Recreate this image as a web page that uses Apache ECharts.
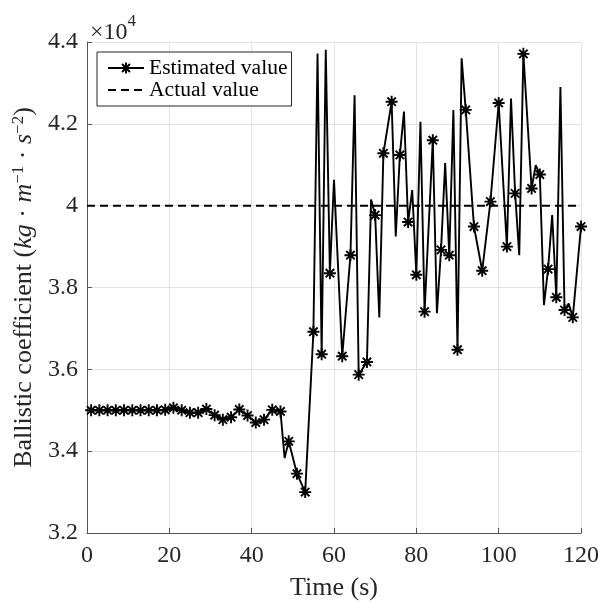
<!DOCTYPE html>
<html>
<head>
<meta charset="utf-8">
<script src="https://cdn.jsdelivr.net/npm/echarts@6/dist/echarts.min.js"></script>
<style>
  html, body { margin: 0; padding: 0; background: #fff; }
  #chart { width: 598px; height: 603px; }
</style>
</head>
<body>
<div id="chart"></div>
<script>
// asterisk points (estimated value with marker)
var markerTime = [1,3,5,7,9,11,13,15,17,19,21,23,25,27,29,31,33,35,37,39,41,43,45,47,49,51,53,55,57,59,
    62,64,66,68,70,72,74,76,78,80,82,84,86,88,90,92,94,96,98,100,102,104,106,108,110,112,114,116,118,120];
var markerValue = [35000,35000,35000,35000,35000,35000,35000,35000,35000,35010,35060,35000,34940,34940,35030,
    34880,34770,34830,35020,34870,34700,34770,35010,34970,34240,33450,33000,36920,36370,38350,
    36320,38790,35870,36180,39770,41280,42540,41240,39600,38310,37410,41600,38920,38790,36480,
    42340,39490,38410,40100,42510,39000,40300,43710,40420,40760,38450,37760,37450,37270,39490];
// line vertices between markers (no marker drawn)
var peakTime = [48,56,58,60,65,69,71,75,77,79,81,85,87,89,91,103,105,109,111,113,115,117];
var peakValue = [33830,43720,43810,40630,42700,40150,37270,39250,42300,40380,42050,37370,41040,42340,43600,
    42620,38790,40990,37570,39770,42900,37610];
var actualTime = [0, 120];
var actualValue = [40000, 40000];

var asterisk = 'path://M5,0L5,10M0,5L10,5M1.5,1.5L8.5,8.5M8.5,1.5L1.5,8.5';
var serif = 'Liberation Serif';

var estData = [];
for (var i = 0; i < markerTime.length; i++) {
    estData.push({value: [markerTime[i], markerValue[i]]});
}
for (var j = 0; j < peakTime.length; j++) {
    estData.push({value: [peakTime[j], peakValue[j]], symbol: 'none'});
}
estData.sort(function (a, b) { return a.value[0] - b.value[0]; });

var actData = actualTime.map(function (t, k) { return [t, actualValue[k]]; });

var myChart = echarts.init(document.getElementById('chart'));
var option = {
    animation: false,
    backgroundColor: '#fff',
    grid: {left: 87, right: 17, top: 42, bottom: 70, outerBoundsMode: 'none', containLabel: false},
    legend: {
        orient: 'vertical',
        left: 97,
        top: 52,
        padding: [5, 4, 5, 10],
        itemGap: 0,
        itemWidth: 36,
        itemHeight: 14,
        borderColor: '#262626',
        borderWidth: 1,
        backgroundColor: '#fff',
        textStyle: {fontFamily: serif, fontSize: 21.6, color: '#000', lineHeight: 22},
        data: [
            {name: 'Estimated value'},
            {name: 'Actual value', itemStyle: {opacity: 0}}
        ]
    },
    xAxis: {
        type: 'value',
        min: 0, max: 120, interval: 20,
        name: 'Time (s)',
        nameLocation: 'middle',
        nameGap: 42,
        nameTextStyle: {fontFamily: serif, fontSize: 26, color: '#262626'},
        axisLine: {lineStyle: {color: '#555', width: 1}},
        axisTick: {inside: true, length: 5, lineStyle: {color: '#555'}},
        axisLabel: {fontFamily: serif, fontSize: 24, color: '#262626', margin: 11},
        splitLine: {show: true, lineStyle: {color: '#e3e3e3', width: 1}}
    },
    yAxis: {
        type: 'value',
        min: 32000, max: 44000, interval: 2000,
        name: '{n|Ballistic coefficient (}{i|kg}{n| · }{i|m}{s|−1}{n| · }{i|s}{s|−2}{n|)}',
        nameLocation: 'middle',
        nameRotate: 90,
        nameGap: 38,
        nameTextStyle: {
            fontFamily: serif, fontSize: 26, color: '#262626',
            rich: {
                n: {fontFamily: serif, fontSize: 26, color: '#262626'},
                i: {fontFamily: serif, fontSize: 26, fontStyle: 'italic', color: '#262626'},
                s: {fontFamily: serif, fontSize: 17, color: '#262626', verticalAlign: 'top', padding: [0, 0, 12, 0]}
            }
        },
        axisLine: {show: true, lineStyle: {color: '#555', width: 1}},
        axisTick: {show: true, inside: true, length: 5, lineStyle: {color: '#555'}},
        axisLabel: {
            fontFamily: serif, fontSize: 24, color: '#262626', margin: 9,
            formatter: function (v) { return String(Number((v / 10000).toFixed(1))); }
        },
        splitLine: {show: true, lineStyle: {color: '#e3e3e3', width: 1}}
    },
    graphic: [{
        type: 'text',
        left: 90,
        top: 13,
        style: {
            text: '{a|×10}{b|4}',
            rich: {
                a: {fontFamily: serif, fontSize: 24, fill: '#262626', padding: [8, 0, 0, 0]},
                b: {fontFamily: serif, fontSize: 17, fill: '#262626', verticalAlign: 'top'}
            }
        }
    }],
    series: [
        {
            name: 'Estimated value',
            type: 'line',
            data: estData,
            symbol: asterisk,
            symbolSize: 12,
            showSymbol: true,
            showAllSymbol: true,
            itemStyle: {color: '#000', borderColor: '#000', borderWidth: 1.9},
            lineStyle: {color: '#000', width: 1.9},
            z: 3
        },
        {
            name: 'Actual value',
            type: 'line',
            data: actData,
            symbol: 'none',
            lineStyle: {color: '#000', width: 2, type: [8, 5]},
            itemStyle: {color: '#000'},
            z: 2
        }
    ]
};
myChart.setOption(option, true);
</script>
</body>
</html>
